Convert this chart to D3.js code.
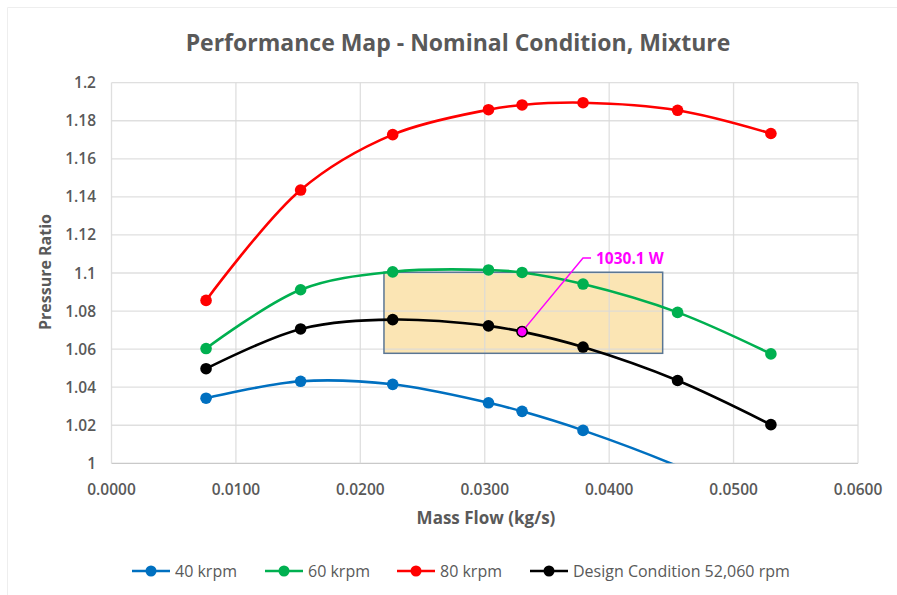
<!DOCTYPE html>
<html>
<head>
<meta charset="utf-8">
<script src="https://cdn.jsdelivr.net/npm/d3@7"></script>
<style>
  body { margin: 0; background: #fff; }
  svg text { font-family: "Open Sans", "Noto Sans", sans-serif; }
</style>
</head>
<body>
<div id="chart"></div>
<script>
// mass flow points (kg/s), shared by all speed lines
const massFlow = [0.0076, 0.0152, 0.0226, 0.0303, 0.0330, 0.0379, 0.0455, 0.0530];

const pr40 = [1.0342, 1.0431, 1.0415, 1.0318, 1.0273, 1.0173, 0.9985, 0.9760];
const pr60 = [1.0603, 1.0912, 1.1006, 1.1016, 1.1003, 1.0942, 1.0793, 1.0575];
const pr80 = [1.0856, 1.1436, 1.1727, 1.1858, 1.1883, 1.1895, 1.1855, 1.1733];
const prDesign = [1.0497, 1.0706, 1.0755, 1.0722, 1.0692, 1.0611, 1.0435, 1.0203];

const seriesNames = ["40 krpm", "60 krpm", "80 krpm", "Design Condition 52,060 rpm"];
const seriesColors = ["#0070C0", "#00B050", "#FF0000", "#000000"];
const seriesValues = [pr40, pr60, pr80, prDesign];

const xTicks = [0, 0.01, 0.02, 0.03, 0.04, 0.05, 0.06];
const yTicks = [1, 1.02, 1.04, 1.06, 1.08, 1.1, 1.12, 1.14, 1.16, 1.18, 1.2];

// operating window + design point annotation
const boxX = [0.0219, 0.0443];
const boxY = [1.0578, 1.1004];
const designPoint = { x: 0.0330, y: 1.0692, label: "1030.1 W" };

const width = 897;
const height = 595;
const margin = { left: 111.5, right: 39, top: 82.7, bottom: 131.7 };

const TEXT_COLOR = "#595959";
const GRID_COLOR = "#d9d9d9";

const svg = d3.select("#chart")
  .append("svg")
  .attr("width", width)
  .attr("height", height);

// faint chart-area border (top/left only visible in reference)
svg.append("path")
  .attr("d", `M7.5,${height} L7.5,7.5 L${width},7.5`)
  .attr("fill", "none")
  .attr("stroke", "#eeeeee");

const x = d3.scaleLinear()
  .domain([0, 0.06])
  .range([margin.left, width - margin.right]);

const y = d3.scaleLinear()
  .domain([1, 1.2])
  .range([height - margin.bottom, margin.top]);

// shaded window
svg.append("rect")
  .attr("x", x(boxX[0]))
  .attr("y", y(boxY[1]))
  .attr("width", x(boxX[1]) - x(boxX[0]))
  .attr("height", y(boxY[0]) - y(boxY[1]))
  .attr("fill", "#fbe5b4");

// gridlines
const grid = svg.append("g");
grid.selectAll("line.h")
  .data(yTicks)
  .enter()
  .append("line")
  .attr("x1", x(0))
  .attr("x2", x(0.06))
  .attr("y1", (d) => y(d))
  .attr("y2", (d) => y(d))
  .attr("stroke", (d, i) => i === 0 ? "#bfbfbf" : GRID_COLOR)
  .attr("stroke-opacity", 0.85)
  .attr("stroke-width", 1.3);

grid.selectAll("line.v")
  .data(xTicks)
  .enter()
  .append("line")
  .attr("x1", (d) => x(d))
  .attr("x2", (d) => x(d))
  .attr("y1", y(1))
  .attr("y2", y(1.2))
  .attr("stroke", GRID_COLOR)
  .attr("stroke-opacity", 0.85)
  .attr("stroke-width", 1.3);

// box outline
svg.append("rect")
  .attr("x", x(boxX[0]))
  .attr("y", y(boxY[1]))
  .attr("width", x(boxX[1]) - x(boxX[0]))
  .attr("height", y(boxY[0]) - y(boxY[1]))
  .attr("fill", "none")
  .attr("stroke", "#5a7694")
  .attr("stroke-width", 1.5);

// axis tick labels
svg.append("g")
  .selectAll("text")
  .data(yTicks)
  .enter()
  .append("text")
  .attr("x", 96)
  .attr("y", (d) => y(d) + 5.5)
  .attr("text-anchor", "end")
  .style("font-size", "15.5px")
  .style("font-weight", "600")
  .style("fill", TEXT_COLOR)
  .text((d) => d3.format("")(+d.toFixed(2)));

svg.append("g")
  .selectAll("text")
  .data(xTicks)
  .enter()
  .append("text")
  .attr("x", (d) => x(d))
  .attr("y", 495)
  .attr("text-anchor", "middle")
  .style("font-size", "15.5px")
  .style("font-weight", "600")
  .style("fill", TEXT_COLOR)
  .text((d) => d.toFixed(4));

// titles
svg.append("text")
  .attr("x", 458)
  .attr("y", 51)
  .attr("text-anchor", "middle")
  .style("font-size", "23px")
  .style("font-weight", "bold")
  .style("fill", TEXT_COLOR)
  .text("Performance Map - Nominal Condition, Mixture");

svg.append("text")
  .attr("x", 486)
  .attr("y", 524)
  .attr("text-anchor", "middle")
  .style("font-size", "17px")
  .style("font-weight", "bold")
  .style("fill", TEXT_COLOR)
  .text("Mass Flow (kg/s)");

svg.append("text")
  .attr("transform", "translate(51,272) rotate(-90)")
  .attr("text-anchor", "middle")
  .style("font-size", "16px")
  .style("font-weight", "bold")
  .style("fill", TEXT_COLOR)
  .text("Pressure Ratio");

// clip so the 40 krpm line stops at the axis
svg.append("clipPath")
  .attr("id", "plot-clip")
  .append("rect")
  .attr("x", x(0))
  .attr("y", y(1.2) - 10)
  .attr("width", x(0.06) - x(0))
  .attr("height", y(1) - y(1.2) + 10);

const line = d3.line()
  .x((d) => x(d[0]))
  .y((d) => y(d[1]))
  .curve(d3.curveCatmullRom.alpha(0.5));

// draw in order: blue, green, red, black (black on top)
const plotG = svg.append("g").attr("clip-path", "url(#plot-clip)");
seriesValues.forEach((vals, i) => {
  const pts = massFlow.map((m, j) => [m, vals[j]]);
  plotG.append("path")
    .attr("d", line(pts))
    .attr("fill", "none")
    .attr("stroke", seriesColors[i])
    .attr("stroke-width", 2.6);

  plotG.append("g")
    .selectAll("circle")
    .data(pts.filter((p) => p[1] >= 1))
    .enter()
    .append("circle")
    .attr("cx", (d) => x(d[0]))
    .attr("cy", (d) => y(d[1]))
    .attr("r", 5.8)
    .attr("fill", seriesColors[i]);
});

// design point + leader line
const labelX = 583;
const labelY = 258;
svg.append("path")
  .attr("d", `M${x(designPoint.x)},${y(designPoint.y)} L${labelX},${labelY} L${labelX + 8},${labelY}`)
  .attr("fill", "none")
  .attr("stroke", "#FF00FF")
  .attr("stroke-width", 1.5);

svg.append("circle")
  .attr("cx", x(designPoint.x))
  .attr("cy", y(designPoint.y))
  .attr("r", 5)
  .attr("fill", "#FF00FF")
  .attr("stroke", "#000")
  .attr("stroke-width", 1.2);

svg.append("text")
  .attr("x", labelX + 13)
  .attr("y", labelY + 5.5)
  .style("font-size", "15.5px")
  .style("font-weight", "bold")
  .style("fill", "#FF00FF")
  .text(designPoint.label);

// legend
const legendX = [132, 265, 397, 530];
const legend = svg.append("g");
seriesNames.forEach((name, i) => {
  const lg = legend.append("g").attr("transform", `translate(${legendX[i]},571)`);
  lg.append("line")
    .attr("x1", 0).attr("x2", 38)
    .attr("y1", 0).attr("y2", 0)
    .attr("stroke", seriesColors[i])
    .attr("stroke-width", 2.6);
  lg.append("circle")
    .attr("cx", 19).attr("cy", 0).attr("r", 5.5)
    .attr("fill", seriesColors[i]);
  lg.append("text")
    .attr("x", 43)
    .attr("y", 5.5)
    .style("font-size", "16px")
    .style("font-weight", "400")
    .style("fill", TEXT_COLOR)
    .text(name);
});
</script>
</body>
</html>
